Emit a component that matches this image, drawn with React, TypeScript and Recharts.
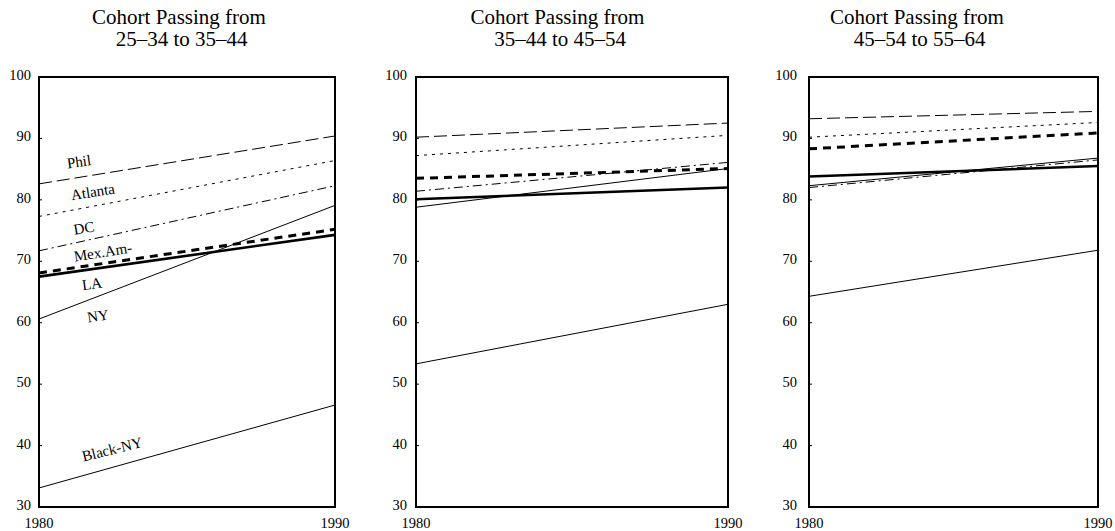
import React from 'react';
import { LineChart, Line, XAxis, YAxis, ReferenceArea, ReferenceDot } from 'recharts';

const years = [1980, 1990];
const seriesNames = ['Phil', 'Atlanta', 'DC', 'Mex.Am-', 'LA', 'NY', 'Black-NY'];
const yTicks = [30, 40, 50, 60, 70, 80, 90, 100];

const panel1Start = [82.6, 77.3, 71.7, 68.1, 67.5, 60.6, 33.1];
const panel1End = [90.4, 86.4, 82.3, 75.2, 74.3, 79.1, 46.6];
const panel2Start = [90.2, 87.2, 81.4, 83.5, 80.1, 78.8, 53.3];
const panel2End = [92.5, 90.5, 86.1, 85.1, 82.0, 85.1, 63.0];
const panel3Start = [93.2, 90.2, 82.0, 88.3, 83.8, 82.3, 64.3];
const panel3End = [94.4, 92.6, 86.5, 90.9, 85.5, 86.8, 71.8];

const titleLine1 = 'Cohort Passing from';
const titleLine2 = [' 25–34 to 35–44', ' 35–44 to 45–54', ' 45–54 to 55–64'];

// label positions (data coords) and rotation for panel 1
const labelYears = [1981.35, 1981.82, 1981.52, 1982.16, 1981.79, 1981.99, 1982.47];
const labelValues = [86.2, 81.3, 75.4, 71.5, 66.3, 61.1, 39.4];
const labelAngles = [-8, -9, -10, -9, -8, -9, -14];

const styles = [
  { stroke: '#000', width: 1, dash: '13 5' },
  { stroke: '#000', width: 1, dash: '3 5' },
  { stroke: '#000', width: 1, dash: '9 4 2 4' },
  { stroke: '#000', width: 3, dash: '8 6' },
  { stroke: '#000', width: 2.6, dash: undefined },
  { stroke: '#000', width: 1, dash: undefined },
  { stroke: '#000', width: 1, dash: undefined },
];

const FONT = '"Liberation Serif", "Times New Roman", serif';

function buildData(start: number[], end: number[]) {
  return years.map((y, i) => {
    const row: any = { year: y };
    seriesNames.forEach((n, k) => {
      row[n] = i === 0 ? start[k] : end[k];
    });
    return row;
  });
}

const XTick = (props: any) => {
  const { x, y, payload } = props;
  return (
    <text x={x} y={y + 21} textAnchor="middle" fontSize={14.5} fontFamily={FONT} fill="#000">
      {payload.value}
    </text>
  );
};

const YTick = (props: any) => {
  const { x, y, payload } = props;
  return (
    <text x={x} y={y + 3} textAnchor="end" fontSize={14.5} fontFamily={FONT} fill="#000">
      {payload.value}
    </text>
  );
};

type PanelProps = {
  left: number;
  width: number;
  yWidth: number;
  marginRight: number;
  labelGap: number;
  start: number[];
  end: number[];
  showLabels: boolean;
};

function Panel({ left, width, yWidth, marginRight, labelGap, start, end, showLabels }: PanelProps) {
  const data = buildData(start, end);
  return (
    <div style={{ position: 'absolute', left, top: 0, width, height: 531 }}>
      <LineChart
        width={width}
        height={531}
        data={data}
        margin={{ top: 77, right: marginRight, bottom: 0, left: 0 }}
      >
        <XAxis
          dataKey="year"
          type="number"
          domain={[1980, 1990]}
          ticks={years}
          interval={0}
          height={24}
          axisLine={false}
          tickLine={false}
          tickSize={0}
          tickMargin={0}
          tick={<XTick />}
        />
        <YAxis
          type="number"
          domain={[30, 100]}
          ticks={yTicks}
          interval={0}
          width={yWidth}
          axisLine={false}
          tickLine={{ stroke: '#000', strokeWidth: 1 }}
          tickSize={-3}
          tickMargin={labelGap + 3}
          tick={<YTick />}
        />
        <ReferenceArea
          x1={1980}
          x2={1990}
          y1={30}
          y2={100}
          fill="none"
          fillOpacity={0}
          stroke="#000"
          strokeWidth={2}
          ifOverflow="visible"
        />
        {seriesNames.map((n, k) => (
          <Line
            key={n}
            dataKey={n}
            type="linear"
            stroke={styles[k].stroke}
            strokeWidth={styles[k].width}
            strokeDasharray={styles[k].dash}
            dot={false}
            activeDot={false}
            isAnimationActive={false}
          />
        ))}
        {showLabels &&
          seriesNames.map((n, k) => (
            <ReferenceDot
              key={'lbl' + n}
              x={labelYears[k]}
              y={labelValues[k]}
              r={0}
              ifOverflow="visible"
              shape={(p: any) => (
                <text
                  x={p.cx}
                  y={p.cy}
                  textAnchor="middle"
                  dominantBaseline="central"
                  fontSize={15}
                  fontFamily={FONT}
                  fill="#000"
                  transform={`rotate(${labelAngles[k]} ${p.cx} ${p.cy})`}
                >
                  {n}
                </text>
              )}
            />
          ))}
      </LineChart>
    </div>
  );
}

const titleCenters = [179, 557.5, 917];

export default function App() {
  return (
    <div
      style={{
        position: 'absolute',
        left: 0,
        top: 0,
        width: 1115,
        height: 531,
        background: '#fff',
        fontFamily: FONT,
        overflow: 'hidden',
      }}
    >
      {titleCenters.map((c, i) => (
        <div
          key={'t' + i}
          style={{
            position: 'absolute',
            left: c - 150,
            width: 300,
            top: 5.7,
            textAlign: 'center',
            fontSize: 21,
            lineHeight: '22.5px',
            whiteSpace: 'pre',
            color: '#000',
          }}
        >
          <div>{titleLine1}</div>
          <div>{titleLine2[i]}</div>
        </div>
      ))}
      <Panel left={0} width={380} yWidth={39} marginRight={45} labelGap={8} start={panel1Start} end={panel1End} showLabels={true} />
      <Panel left={380} width={370} yWidth={36} marginRight={22} labelGap={9} start={panel2Start} end={panel2End} showLabels={false} />
      <Panel left={750} width={365} yWidth={59} marginRight={17} labelGap={12} start={panel3Start} end={panel3End} showLabels={false} />
    </div>
  );
}
